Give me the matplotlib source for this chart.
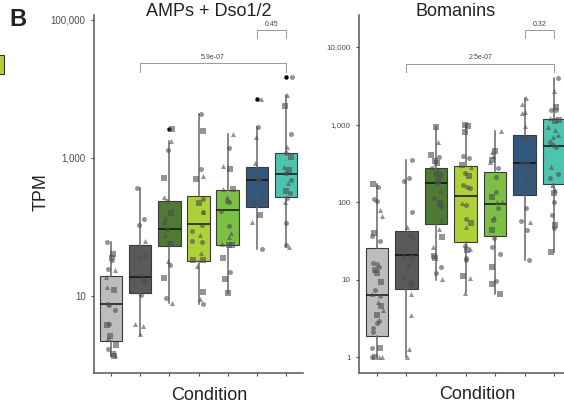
import numpy as np
import matplotlib
matplotlib.use("Agg")
import matplotlib.pyplot as plt
from matplotlib.patches import Rectangle
from matplotlib.ticker import FixedLocator, NullLocator

plt.rcParams['font.family'] = ['Liberation Sans', 'DejaVu Sans']

# ---------------- data ----------------
box_colors = ['#BDBDBD', '#5A5A5A', '#4E7A33', '#ADD136', '#7CBF45', '#33587D', '#4EC3AE']

# AMPs + Dso1/2 : points per condition, marker shape (c/s/t) and horizontal jitter (px)
amp_vals = [
    [60, 40, 36, 33, 24.6, 24, 18.7, 13.5, 12.2, 7.7, 7.5, 6.3, 3.9, 3.8, 2.6, 2.5, 1.95, 1.7, 1.45, 1.38, 1.35],
    [367, 132, 108, 63, 38, 35, 21, 17, 16.5, 10.2, 3.9, 3.7, 2.8],
    [2630, 1760, 1300, 513, 275, 235, 158, 134, 114, 93, 77, 59, 57, 32, 28, 18, 9.5, 8.0],
    [4350, 2490, 686, 548, 491, 252, 225, 167, 163, 107, 87, 77, 63, 60, 42, 33, 33, 27, 11.5, 9.0, 7.6],
    [2230, 1380, 766, 686, 352, 352, 275, 238, 230, 172, 104, 83, 72, 57, 54, 54, 36, 22.5, 17.5, 11],
    [7160, 2810, 2040, 837, 568, 560, 497, 480, 269, 252, 225, 149, 119, 48],
    [14700, 8180, 5700, 2230, 1460, 1170, 1020, 748, 670, 600, 480, 430, 336, 316, 260, 233, 115, 54, 51],
]
amp_shapes = [
    "csstctttsccccsstscsts",
    "ccctcctcccttt",
    "stcstcstcctcstcsct",
    "csctscsctcctcctsststc",
    "tctststcccctttssscss",
    "tctttccccccstc",
    "ctsctcstscctscctcct",
]
amp_jit = [
    [-4, 2, 1, 1, -3, 4, -5, -4, 3, -3, -2, 4, -2, -4, -1, -3, 5, -3, 2, 4, 3],
    [-3, 4, -1, 5, 5, -1, 2, 4, 4, 1, -5, 3, 0],
    [3, 2, -1, -5, -5, -2, 2, -4, -5, -2, -4, 0, 2, -1, 1, -5, -3, 3],
    [2, 4, 2, 4, -2, 4, 0, 4, 4, 3, -6, 1, -6, 3, 2, -5, 4, -1, 4, 1, 4],
    [5, 1, -5, 2, -5, 5, -1, -1, 1, -7, 1, 3, 1, -6, 1, 4, -5, 2, -3, 0],
    [4, 1, -1, -2, -4, 0, 1, 2, 5, -5, -2, 3, -5, 5],
    [6, 1, -1, 5, 1, 0, 5, -2, 3, 0, 5, 2, 0, 4, 1, -1, 0, 0, 3],
]
amp_lo = [1.35, 2.72, 7.92, 7.66, 11.0, 48, 51.3]
amp_q1 = [2.23, 11.0, 53.1, 32.1, 54.8, 195, 272]
amp_med = [7.66, 18.8, 93.5, 110, 176, 480, 586]
amp_q3 = [19.5, 54.8, 238, 281, 344, 741, 1180]
amp_hi = [60.7, 367, 1762, 4345, 2228, 2812, 8180]
amp_out = [[], [], [2630], [], [], [7160], [14700]]

# Bomanins
bom_vals = [
    [171, 157, 108, 104, 79, 66, 39.5, 36.4, 31.7, 16.2, 15.8, 14.6, 13.3, 12.2, 9.4, 7.3, 6.5, 6.1, 5.2, 4.5,
     4.0, 3.5, 2.94, 2.72, 2.4, 2.12, 1.32, 1.32, 1.0, 1.0, 1.0, 1.0],
    [348, 202, 188, 75, 48, 36.4, 34.6, 34, 19.7, 18.8, 14.9, 10.6, 9.1, 8.5, 6.5, 3.5, 1.26, 1.0],
    [937, 589, 404, 384, 341, 316, 272, 259, 230, 221, 188, 176, 139, 114, 96, 89, 58.6, 44.5, 35, 26, 20.3,
     19.1, 14.4, 12.2, 10.1],
    [986, 957, 807, 393, 366, 300, 281, 239, 216, 166, 157, 150, 96, 91.5, 60, 54, 48, 27, 24.5, 24, 18.8,
     17.9, 11.1, 10.5, 6.8],
    [824, 462, 446, 393, 348, 331, 272, 212, 136, 117, 101, 99, 84, 64.5, 58.6, 43.6, 34, 26.5, 21.1, 14.6,
     9.7, 8.7, 6.6],
    [2220, 1840, 1460, 1400, 957, 688, 664, 321, 316, 223, 192, 183, 146, 83, 57, 55, 44, 18],
    [3940, 2730, 1700, 1540, 1540, 1200, 1140, 1120, 920, 850, 732, 684, 600, 543, 517, 281, 230, 202, 166,
     143, 132, 99, 68, 50.5, 45.8, 22.4],
]
bom_shapes = [
    "sccctt" "scc" "cccss" "sctctsts" "cccc" "cs" "cstt",
    "cccctcctcsccsstttt",
    "stscssctcssctcssttstsscct",
    "sssccstcsccctccstctsccstt",
    "tsttstcccsttctcscccscss",
    "tttttccccccctcctcc",
    "ctsccts" "stttt" "ccctcc" "ttscc" "scs",
]
bom_jit = [
    [-4, 1, -3, 0, 3, 5, -3, -5, 3, -4, 0, 2, -2, 0, 4, -2, -5, 3, 1, 4, 6, 0, 2, 0, -4, -4, -5, 3, -5, -2, 2, 5],
    [6, 3, -2, 6, 1, 4, 7, -4, -3, 6, 2, -3, 5, 6, 5, 5, 3, 1],
    [0, 2, -5, 3, -1, 1, -4, 1, -1, 4, 2, 1, 4, -2, 4, 5, 5, 3, 6, -3, -2, -1, 5, 0, 6],
    [-1, 3, -1, -3, 4, -4, 6, -1, 4, -3, 2, 5, -4, 0, 1, 6, 0, -1, 5, 2, 1, 0, -3, 5, -1],
    [6, 0, -3, -2, -3, -5, 3, 1, 1, -3, 2, 7, 3, -1, -2, -3, -1, -3, 5, -3, 1, -3, 5],
    [1, -3, 0, -3, 0, -2, 1, -3, 2, 3, 0, 6, 3, 1, -4, 5, 2, 4],
    [4, 0, 2, -3, 2, -4, 5, 1, -6, 1, 4, -1, -4, -1, 2, -3, 4, -4, -2, 1, 0, 0, -2, 1, 0, -3],
]
bom_lo = [1.0, 1.0, 9.86, 6.9, 6.6, 17.9, 22.6]
bom_q1 = [1.87, 7.53, 52.0, 30.5, 36.4, 123, 171]
bom_med = [6.3, 20.7, 176, 119, 94.2, 318, 528]
bom_q3 = [25.5, 42.3, 275, 292, 244, 732, 1178]
bom_hi = [171, 348, 937, 986, 824, 2220, 3940]
bom_out = [[], [], [], [], [], [], []]

amp_pairs = [(2, 7), (6, 7)]
amp_pvals = ['5.9e-07', '0.45']
bom_pairs = [(2, 7), (6, 7)]
bom_pvals = ['2.5e-07', '0.32']

amp_yticks = [10, 1000, 100000]
bom_yticks = [1, 10, 100, 1000, 10000]

markers = {'c': 'o', 's': 's', 't': '^'}


def draw_panel(ax, vals, shapes, jit, lo, q1, med, q3, hi, out, px_per_cat):
    stats = []
    for i in range(len(vals)):
        stats.append(dict(med=med[i], q1=q1[i], q3=q3[i], whislo=lo[i], whishi=hi[i], fliers=out[i]))
    bp = ax.bxp(stats, positions=np.arange(1, 8), widths=0.76, patch_artist=True, showcaps=False,
                boxprops=dict(edgecolor='#3a3a3a', linewidth=0.8),
                whiskerprops=dict(color='#666666', linewidth=1.1),
                medianprops=dict(color='#111111', linewidth=1.1),
                flierprops=dict(marker='o', markerfacecolor='black', markeredgecolor='black',
                                markersize=2.2, linestyle='none'),
                zorder=2)
    for patch, col in zip(bp['boxes'], box_colors):
        patch.set_facecolor(col)
    for i, (v, sh, jj) in enumerate(zip(vals, shapes, jit)):
        n = min(len(v), len(sh), len(jj))
        v = np.array(v[:n], dtype=float)
        xs = i + 1 + np.array(jj[:n], dtype=float) / px_per_cat
        for key, m in markers.items():
            sel = np.array([ch == key for ch in sh[:n]])
            if sel.any():
                ax.scatter(xs[sel], v[sel], marker=m, s=13, color='#4d4d4d', alpha=0.6,
                           linewidths=0, zorder=3)
    ax.set_yscale('log')
    ax.set_xlim(0.4, 7.6)
    ax.set_xticks(np.arange(1, 8))
    ax.set_xticklabels([])
    ax.yaxis.set_minor_locator(NullLocator())
    for s in ['top', 'right']:
        ax.spines[s].set_visible(False)
    for s in ['left', 'bottom']:
        ax.spines[s].set_color('#555555')
        ax.spines[s].set_linewidth(1.1)
    ax.tick_params(colors='#555555', length=2.5, width=0.8, labelcolor='#4d4d4d')


def brackets(ax, pairs, labels, ys, fs):
    tr = ax.get_xaxis_transform()
    for (a, b), lab, (yl, yb, yt) in zip(pairs, labels, ys):
        ax.plot([a, a, b, b], [yb, yl, yl, yb], color='#999999', lw=0.7, transform=tr,
                clip_on=False, zorder=4)
        ax.text((a + b) / 2, yt, lab, transform=tr, ha='center', va='center', fontsize=fs,
                color='#444444')


fig = plt.figure(figsize=(5.64, 4.08), dpi=100)
H = 408.0
W = 564.0

ax1 = fig.add_axes([94 / W, 35 / H, 209 / W, 358 / H])
draw_panel(ax1, amp_vals, amp_shapes, amp_jit, amp_lo, amp_q1, amp_med, amp_q3, amp_hi, amp_out, 29.0)
ax1.set_ylim(0.766, 118000)
ax1.yaxis.set_major_locator(FixedLocator(amp_yticks))
ax1.set_yticklabels([f'{t:,}' for t in amp_yticks], fontsize=7)
brackets(ax1, amp_pairs, amp_pvals, [(0.865, 0.842, 0.882), (0.957, 0.936, 0.973)], 5)

ax2 = fig.add_axes([359 / W, 35 / H, 213 / W, 358 / H])
draw_panel(ax2, bom_vals, bom_shapes, bom_jit, bom_lo, bom_q1, bom_med, bom_q3, bom_hi, bom_out, 29.6)
ax2.set_ylim(0.622, 25900)
ax2.yaxis.set_major_locator(FixedLocator(bom_yticks))
ax2.set_yticklabels([f'{t:,}' for t in bom_yticks], fontsize=5.8)
brackets(ax2, bom_pairs, bom_pvals, [(0.863, 0.841, 0.880), (0.958, 0.936, 0.973)], 5)

# titles and labels
fig.text(209 / W, 1 - 15.7 / H, 'AMPs + Dso1/2', ha='center', va='baseline', fontsize=13, color='#222222')
fig.text(456 / W, 1 - 15.5 / H, 'Bomanins', ha='center', va='baseline', fontsize=13, color='#222222')
fig.text(209 / W, 1 - 399.5 / H, 'Condition', ha='center', va='baseline', fontsize=13, color='#222222')
fig.text(477 / W, 1 - 399 / H, 'Condition', ha='center', va='baseline', fontsize=13, color='#222222')
fig.text(41 / W, 1 - 192 / H, 'TPM', ha='center', va='center', rotation=90, fontsize=13, color='#222222')
fig.text(17.7 / W, 1 - 19.7 / H, 'B', ha='center', va='center', fontsize=17, fontweight='bold',
         color='#222222')

# partially visible legend key from the neighbouring panel
fig.patches.append(Rectangle((-0.01, 1 - 74 / H), 0.01 + 4 / W, 19 / H, transform=fig.transFigure,
                             facecolor=box_colors[3], edgecolor='#333333', linewidth=0.8))

fig.savefig('out.png', dpi=100)
